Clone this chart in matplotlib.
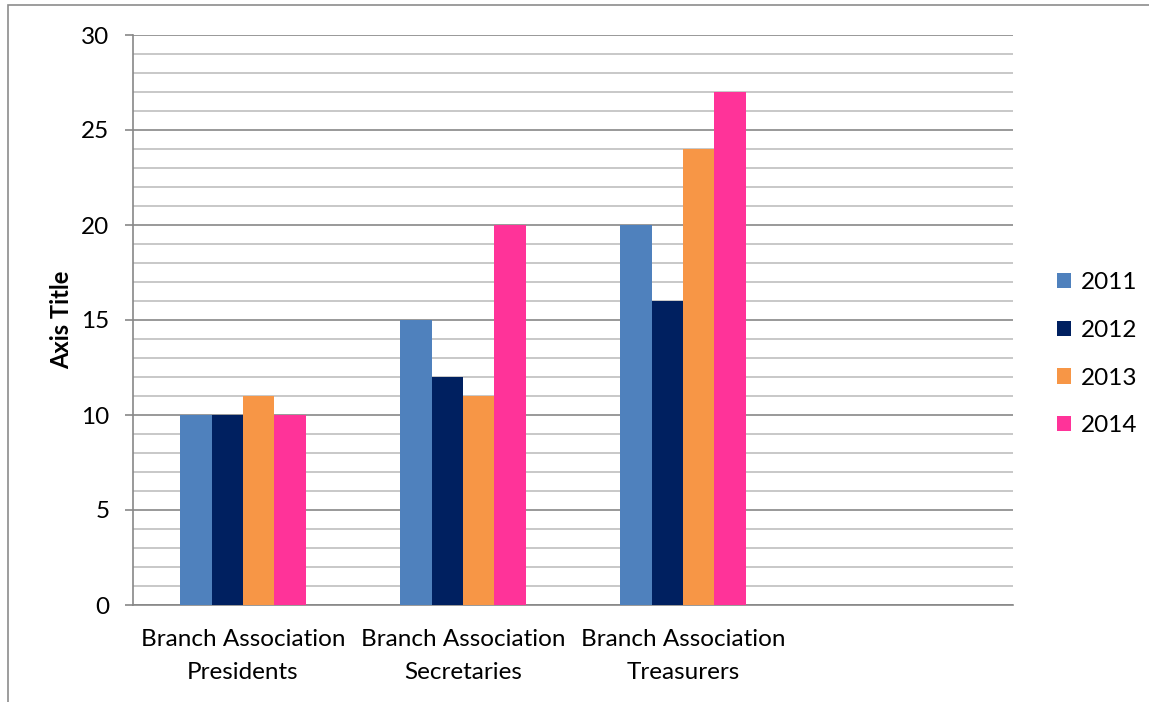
import matplotlib.pyplot as plt
import numpy as np
from matplotlib.patches import Rectangle
from matplotlib.ticker import MultipleLocator

categories = ["Branch Association\nPresidents", "Branch Association\nSecretaries", "Branch Association\nTreasurers"]
years = ["2011", "2012", "2013", "2014"]
v2011 = [10, 15, 20]
v2012 = [10, 12, 16]
v2013 = [11, 11, 24]
v2014 = [10, 20, 27]
colors = ["#4F81BD", "#002060", "#F79646", "#FF3399"]

plt.rcParams["font.family"] = ["Lato", "DejaVu Sans"]

fig = plt.figure(figsize=(11.49, 7.02), dpi=100)
# outer chart-area frame (cropped on right and bottom)
fig.patches.append(Rectangle((8 / 1149, -0.05), 1.2, 1 - 5 / 702 + 0.05, transform=fig.transFigure,
                             fill=False, edgecolor="#8c8c8c", linewidth=1.2))

ax = fig.add_axes([133 / 1149, 97 / 702, 880 / 1149, 570 / 702])
x = np.arange(len(categories))
width = 0.143
series = [v2011, v2012, v2013, v2014]
for i, (yr, vals, c) in enumerate(zip(years, series, colors)):
    ax.bar(x + (i - 1.5) * width, vals, width, color=c, label=yr, zorder=3)

ax.set_xlim(-0.5, 3.5)
ax.set_ylim(0, 30)
ax.yaxis.set_major_locator(MultipleLocator(5))
ax.yaxis.set_minor_locator(MultipleLocator(1))
ax.grid(axis="y", which="major", color="#878787", linewidth=1.2, zorder=0)
ax.grid(axis="y", which="minor", color="#bfbfbf", linewidth=1.2, zorder=0)
ax.set_xticks(x)
ax.set_xticklabels(categories, fontsize=17.5, linespacing=1.75)
ax.tick_params(axis="x", length=0, pad=17)
ax.tick_params(axis="y", which="major", length=6, width=1.2, color="#878787", labelsize=17.5, pad=11)
ax.tick_params(axis="y", which="minor", length=0)
for s in ["top", "right"]:
    ax.spines[s].set_visible(False)
ax.spines["left"].set_color("#878787")
ax.spines["left"].set_linewidth(1.2)
ax.spines["bottom"].set_color("#878787")
ax.spines["bottom"].set_linewidth(1.2)
ax.set_ylabel("Axis Title", fontsize=17, fontweight="bold", labelpad=6)

ax.legend(loc="center left", bbox_to_anchor=(1.025, 0.44), frameon=False, fontsize=17.5,
          handlelength=0.6, handleheight=0.6, handletextpad=0.4, labelspacing=1.1)

fig.savefig("out.png", dpi=100)
